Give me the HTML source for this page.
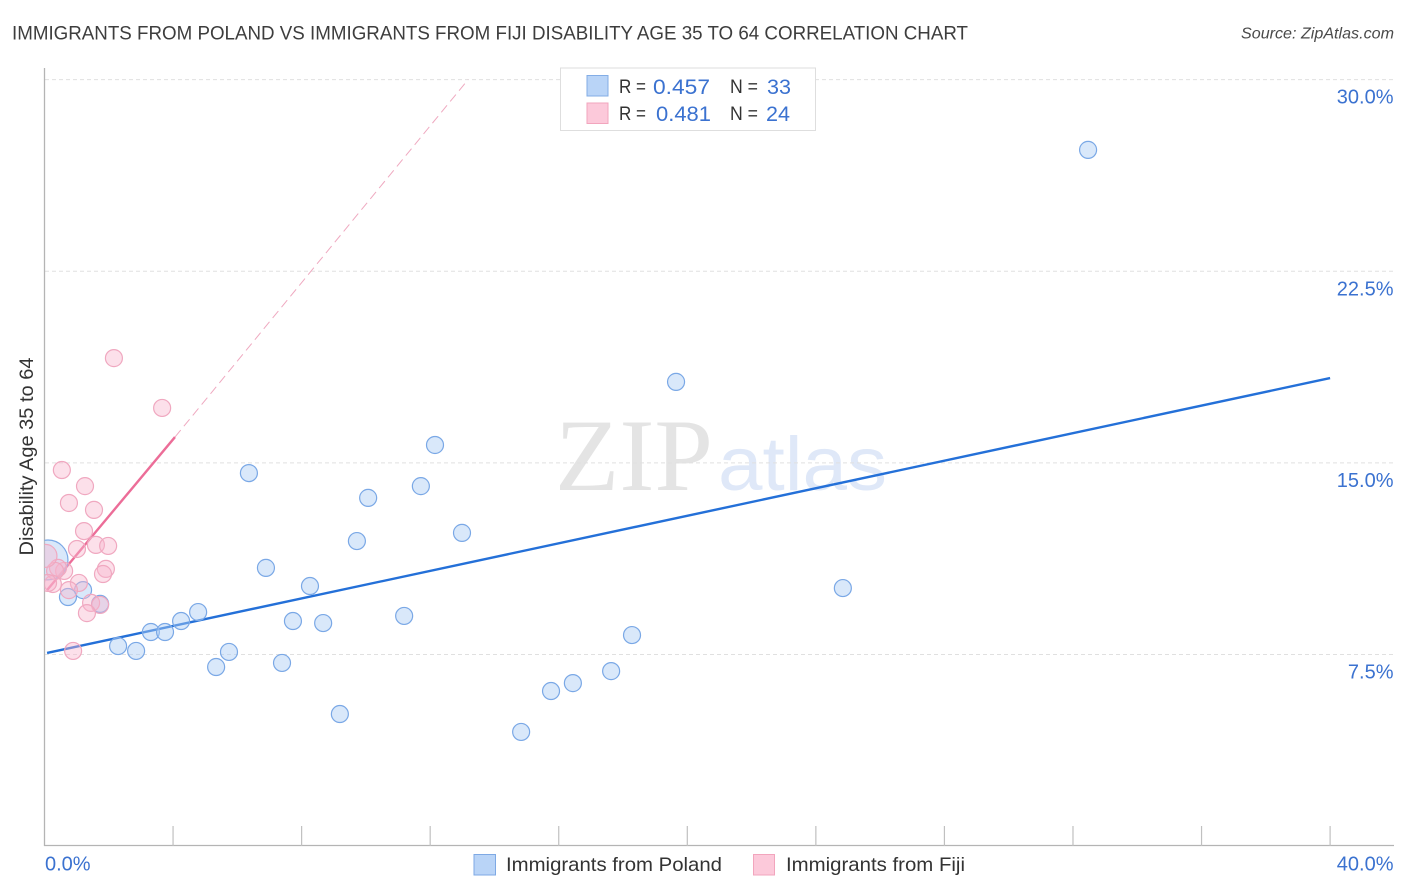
<!DOCTYPE html>
<html lang="en">
<head>
<meta charset="utf-8">
<title>Immigrants from Poland vs Immigrants from Fiji Disability Age 35 to 64 Correlation Chart</title>
<style>
html,body{margin:0;padding:0;background:#fff;width:1406px;height:892px;overflow:hidden}
svg{display:block;font-family:"Liberation Sans",sans-serif}
</style>
</head>
<body>
<svg id="chart" xmlns="http://www.w3.org/2000/svg" width="1406" height="892" viewBox="0 0 1406 892">
  <defs>
    <clipPath id="plot-clip"><rect x="44.5" y="60" width="1350" height="786"/></clipPath>
  </defs>
  <text x="12" y="39.5" font-size="19.5" fill="#3d3d3d" textLength="956" lengthAdjust="spacingAndGlyphs">IMMIGRANTS FROM POLAND VS IMMIGRANTS FROM FIJI DISABILITY AGE 35 TO 64 CORRELATION CHART</text>
  <text x="1241" y="38.5" font-size="16" font-style="italic" fill="#4a4a4a" textLength="153" lengthAdjust="spacingAndGlyphs">Source: ZipAtlas.com</text>

  <g>
    <text x="555" y="490" font-family="'Liberation Serif',serif" font-size="103" fill="#e4e4e4" textLength="158" lengthAdjust="spacingAndGlyphs">ZIP</text>
    <text x="718" y="490" font-size="76" fill="#dfe8f8" textLength="169" lengthAdjust="spacingAndGlyphs">atlas</text>
  </g>

  <g id="grid"></g>
  <g id="axes"></g>
  <g id="trends"></g>
  <g id="points" clip-path="url(#plot-clip)"></g>
  <g id="labels"></g>

  <text transform="translate(33,555.5) rotate(-90)" font-size="19" fill="#333" textLength="198" lengthAdjust="spacingAndGlyphs">Disability Age 35 to 64</text>

  <g>
    <rect x="560.5" y="68" width="255" height="62.5" fill="#fff" stroke="#dedede" stroke-width="1"/>
    <rect x="587" y="75.5" width="21" height="20.5" fill="#b9d4f7" stroke="#83ade6" stroke-width="1"/>
    <rect x="587" y="103" width="21" height="20.5" fill="#fcc9da" stroke="#f2a5bd" stroke-width="1"/>
    <text x="619" y="93" font-size="19" fill="#333" textLength="27" lengthAdjust="spacingAndGlyphs">R =</text>
    <text x="653" y="94" font-size="21" fill="#3b72d0" textLength="57" lengthAdjust="spacingAndGlyphs">0.457</text>
    <text x="730" y="93" font-size="19" fill="#333" textLength="28" lengthAdjust="spacingAndGlyphs">N =</text>
    <text x="767" y="94" font-size="21" fill="#3b72d0" textLength="24" lengthAdjust="spacingAndGlyphs">33</text>
    <text x="619" y="120" font-size="19" fill="#333" textLength="27" lengthAdjust="spacingAndGlyphs">R =</text>
    <text x="656" y="121" font-size="21" fill="#3b72d0" textLength="55" lengthAdjust="spacingAndGlyphs">0.481</text>
    <text x="730" y="120" font-size="19" fill="#333" textLength="28" lengthAdjust="spacingAndGlyphs">N =</text>
    <text x="766" y="121" font-size="21" fill="#3b72d0" textLength="24" lengthAdjust="spacingAndGlyphs">24</text>
  </g>

  <g>
    <rect x="474" y="854.5" width="21.5" height="20.5" fill="#b9d4f7" stroke="#7ea9e4" stroke-width="1"/>
    <text x="506" y="871" font-size="19.5" fill="#333" textLength="216" lengthAdjust="spacingAndGlyphs">Immigrants from Poland</text>
    <rect x="753.5" y="854.5" width="21" height="20.5" fill="#fcc9da" stroke="#f2a5bd" stroke-width="1"/>
    <text x="786" y="871" font-size="19.5" fill="#333" textLength="179" lengthAdjust="spacingAndGlyphs">Immigrants from Fiji</text>
  </g>
</svg>
<script>
const yTickValues = [7.5, 15, 22.5, 30];
const yTickLabels = ["7.5%", "15.0%", "22.5%", "30.0%"];
const xTickValues = [0, 4, 8, 12, 16, 20, 24, 28, 32, 36, 40];
const xEndLabels = ["0.0%", "40.0%"];

const polandX = [32.47,19.65,12.15,6.36,11.71,10.07,12.99,9.72,6.89,8.26,24.84,1.20,0.73,1.73,4.78,7.73,4.25,8.67,11.19,3.31,3.75,18.28,2.29,2.85,5.74,7.39,5.34,17.63,16.44,15.76,9.19,14.83,0.11];
const polandY = [27.25,18.17,15.70,14.60,14.09,13.63,12.26,11.94,10.89,10.18,10.10,10.02,9.75,9.48,9.16,8.81,8.81,8.73,9.01,8.38,8.38,8.26,7.83,7.64,7.60,7.17,7.01,6.85,6.38,6.07,5.17,4.47,11.20];
const polandWeight = [1,1,1,1,1,1,1,1,1,1,1,1,1,1,1,1,1,1,1,1,1,1,1,1,1,1,1,1,1,1,1,1,5.5];

const fijiX = [2.16,3.66,0.54,1.26,0.76,1.54,1.23,1.01,1.60,1.98,1.91,1.82,0.61,0.42,0.33,1.07,0.76,0.26,0.11,1.45,1.73,1.32,0.89,0.03];
const fijiY = [19.10,17.15,14.72,14.09,13.43,13.16,12.33,11.63,11.79,11.75,10.85,10.65,10.77,10.89,10.77,10.30,10.02,10.26,10.30,9.52,9.44,9.12,7.64,11.36];
const fijiWeight = [1,1,1,1,1,1,1,1,1,1,1,1,1,1,1,1,1,1,1,1,1,1,1,1.83];

const polandTrendX = [0.08, 40];
const polandTrendY = [7.56, 18.32];
const fijiTrendX = [0.08, 4.06];
const fijiTrendY = [10.02, 16.01];
const fijiExtensionX = [4.06, 13.18];
const fijiExtensionY = [16.01, 30];

const NS = "http://www.w3.org/2000/svg";
function xScale(v) { return 44.5 + v * 32.14; }
function yScale(v) { return 654.5 - (v - 7.5) * 25.55; }
function rScale(w) { return 8.5 * Math.sqrt(w); }
function make(tag, attrs, parent) {
  const el = document.createElementNS(NS, tag);
  for (const k in attrs) el.setAttribute(k, attrs[k]);
  parent.appendChild(el);
  return el;
}

const gridG = document.getElementById("grid");
const axesG = document.getElementById("axes");
const trendsG = document.getElementById("trends");
const pointsG = document.getElementById("points");
const labelsG = document.getElementById("labels");

yTickValues.forEach(function (v, i) {
  const line = make("line", {x1: 45, x2: 1393, y1: yScale(v), y2: yScale(v), stroke: "#e0e0e0", "stroke-width": 1, "stroke-dasharray": "4 3"}, gridG);
  
  
  const t = make("text", {x: 1393.5, y: yScale(v) + 24, "text-anchor": "end", "font-size": 20, fill: "#3b72d0"}, labelsG);
  t.textContent = yTickLabels[i];
  
  
});

const yAxisLine = make("line", {x1: 44.5, x2: 44.5, y1: 68, y2: 846, stroke: "#b4b4b4", "stroke-width": 1.3}, axesG);


const xAxisLine = make("line", {x1: 44, x2: 1394, y1: 845.5, y2: 845.5, stroke: "#b4b4b4", "stroke-width": 1.3}, axesG);



xTickValues.forEach(function (v) {
  if (v === 0) return;
  const tick = make("line", {x1: xScale(v), x2: xScale(v), y1: 826, y2: 846, stroke: "#c0c0c0", "stroke-width": 1.2}, axesG);
  
  
});

const xLabelStart = make("text", {x: 45, y: 870.5, "font-size": 20, fill: "#3b72d0"}, labelsG);
xLabelStart.textContent = xEndLabels[0];


const xLabelEnd = make("text", {x: 1393.5, y: 870.5, "text-anchor": "end", "font-size": 20, fill: "#3b72d0"}, labelsG);
xLabelEnd.textContent = xEndLabels[1];



polandX.forEach(function (v, i) {
  const c = make("circle", {cx: xScale(v), cy: yScale(polandY[i]), r: rScale(polandWeight[i]), fill: "rgba(170,204,245,0.45)", stroke: "#7aa8e6", "stroke-width": 1.2}, pointsG);
  
  
});
fijiX.forEach(function (v, i) {
  const c = make("circle", {cx: xScale(v), cy: yScale(fijiY[i]), r: rScale(fijiWeight[i]), fill: "rgba(248,180,204,0.42)", stroke: "#f0a8c0", "stroke-width": 1.2}, pointsG);
  
  
});

const polandTrend = make("line", {x1: xScale(polandTrendX[0]), y1: yScale(polandTrendY[0]), x2: xScale(polandTrendX[1]), y2: yScale(polandTrendY[1]), stroke: "#2470d8", "stroke-width": 2.4}, trendsG);


const fijiTrend = make("line", {x1: xScale(fijiTrendX[0]), y1: yScale(fijiTrendY[0]), x2: xScale(fijiTrendX[1]), y2: yScale(fijiTrendY[1]), stroke: "#ec6d98", "stroke-width": 2.4}, trendsG);


const fijiExtension = make("line", {x1: xScale(fijiExtensionX[0]), y1: yScale(fijiExtensionY[0]), x2: xScale(fijiExtensionX[1]), y2: yScale(fijiExtensionY[1]), stroke: "#efa9c0", "stroke-width": 1, "stroke-dasharray": "9 5"}, trendsG);


</script>
</body>
</html>
